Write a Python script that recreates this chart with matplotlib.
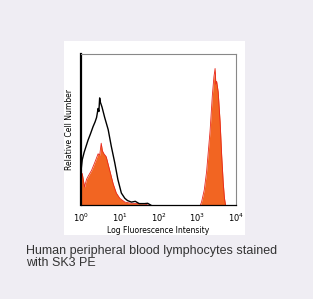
import numpy as np
import matplotlib.pyplot as plt
from matplotlib.patches import Rectangle

# log10 of fluorescence and relative counts
black_logx = [0.00, 0.03, 0.08, 0.18, 0.24, 0.31, 0.36, 0.40, 0.44, 0.46, 0.48, 0.50,
              0.54, 0.61, 0.70, 0.78, 0.87, 0.95, 1.04, 1.13, 1.20, 1.30, 1.40, 1.50,
              1.64, 1.72, 1.80]
black_y = [0.23, 0.30, 0.35, 0.43, 0.47, 0.52, 0.55, 0.58, 0.64, 0.62, 0.71, 0.68,
           0.65, 0.58, 0.50, 0.39, 0.28, 0.17, 0.08, 0.045, 0.03, 0.02, 0.025, 0.01,
           0.01, 0.012, 0.0]

red1_logx = [0.00, 0.03, 0.09, 0.14, 0.18, 0.27, 0.35, 0.44, 0.48, 0.52, 0.55, 0.59,
             0.65, 0.74, 0.83, 0.91, 1.00, 1.13, 1.30, 1.50, 1.65, 1.73]
red1_y = [0.20, 0.21, 0.12, 0.17, 0.19, 0.23, 0.28, 0.34, 0.33, 0.41, 0.36, 0.34,
          0.32, 0.23, 0.14, 0.08, 0.045, 0.02, 0.012, 0.01, 0.008, 0.0]

red2_logx = [3.08, 3.11, 3.18, 3.24, 3.33, 3.39, 3.43, 3.46, 3.48, 3.50, 3.54, 3.59,
             3.63, 3.67, 3.70, 3.73]
red2_y = [0.0, 0.02, 0.10, 0.22, 0.49, 0.73, 0.85, 0.905, 0.80, 0.82, 0.75, 0.55,
          0.33, 0.15, 0.05, 0.0]

xticks = [1, 10, 100, 1000, 10000]
xtick_labels = ['$10^0$', '$10^1$', '$10^2$', '$10^3$', '$10^4$']
caption = 'Human peripheral blood lymphocytes stained\nwith SK3 PE'

fig = plt.figure(figsize=(3.13, 2.99), dpi=100)
fig.patch.set_facecolor('#efedf3')
fig.patches.append(Rectangle((0.2045, 0.214), 0.5785, 0.649, transform=fig.transFigure,
                             facecolor='white', edgecolor='none', zorder=-5))

ax = fig.add_axes([0.259, 0.314, 0.495, 0.505])
ax.set_zorder(2)
ax.set_xscale('log')
ax.set_xlim(1, 10000)
ax.set_ylim(0, 1)

fill_c = '#f26522'
edge_c = '#e8261a'
x1 = 10 ** np.array(red1_logx)
x2 = 10 ** np.array(red2_logx)
ax.fill_between(x1, 0, red1_y, color=fill_c, lw=0)
ax.plot(x1, red1_y, color=edge_c, lw=0.6)
ax.fill_between(x2, 0, red2_y, color=fill_c, lw=0)
ax.plot(x2, red2_y, color=edge_c, lw=0.6)
ax.plot(10 ** np.array(black_logx), black_y, color='black', lw=1.0)

ax.set_xticks(xticks)
ax.set_xticklabels(xtick_labels)
ax.minorticks_off()
ax.set_yticks([])
ax.tick_params(axis='x', length=0, labelsize=6, pad=5)
ax.set_xlabel('Log Fluorescence Intensity', fontsize=5.5, labelpad=1)
ax.set_ylabel('Relative Cell Number', fontsize=5.5, labelpad=5)

ax.spines['left'].set_linewidth(1.6)
ax.spines['bottom'].set_linewidth(0.9)
for s in ['top', 'right']:
    ax.spines[s].set_color('#888888')
    ax.spines[s].set_linewidth(0.8)

fig.text(0.083, 0.181, caption, fontsize=9, family='Liberation Sans',
         color='#333333', va='top', ha='left', linespacing=1.05)

fig.savefig('out.png', dpi=100, facecolor=fig.get_facecolor())
